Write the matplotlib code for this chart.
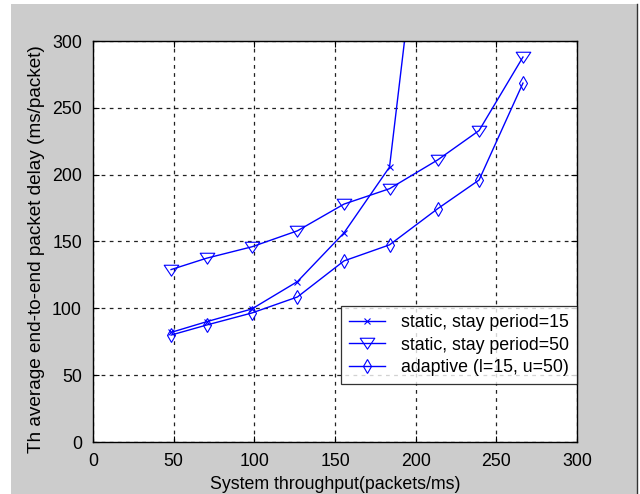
import matplotlib
matplotlib.use("Agg")
import matplotlib.pyplot as plt
from matplotlib.patches import Rectangle
from matplotlib.lines import Line2D
from matplotlib.path import Path

plt.rcParams['font.family'] = ['Liberation Sans', 'DejaVu Sans']

# Throughput (packets/ms) at which each scheme was measured
throughput = [48.4, 70.4, 98.4, 126.7, 155.6, 183.8, 213.6, 239.3, 266.5]
throughput_static15 = [48.4, 70.4, 98.4, 126.7, 155.6, 183.8, 198.0]

# Average end-to-end packet delay (ms/packet)
delay_static15 = [82, 90, 99.5, 120, 156.5, 205.7, 350]
delay_static50 = [129, 137.5, 146, 158, 178, 189.5, 211, 233, 288]
delay_adaptive = [80, 87.5, 96.5, 108.5, 135.5, 147.5, 174.5, 196, 268.5]

labels = ["static, stay period=15", "static, stay period=50", "adaptive (l=15, u=50)"]

x_ticks = [0, 50, 100, 150, 200, 250, 300]
y_ticks = [0, 50, 100, 150, 200, 250, 300]

W, H = 640, 494
fig = plt.figure(figsize=(W / 100, H / 100), dpi=100, facecolor='white')

# grey window background with a dark right border
fig.patches.append(Rectangle((11 / W, 0), (637 - 11) / W, (H - 4) / H,
                             transform=fig.transFigure, facecolor='#cccccc',
                             edgecolor='none', zorder=-10))
fig.lines.append(Line2D([637 / W, 637 / W], [0, (H - 4) / H],
                        transform=fig.transFigure, color='#333333', lw=1.0))

ax = fig.add_axes([93 / W, (H - 442) / H, (577 - 93) / W, (442 - 41) / H])
ax.set_facecolor('white')

blue = '#0000ff'
tri = Path([(-1.0, 0.72), (1.0, 0.72), (0.0, -0.78), (-1.0, 0.72)],
           [Path.MOVETO, Path.LINETO, Path.LINETO, Path.CLOSEPOLY])

ax.plot(throughput_static15, delay_static15, color=blue, lw=1.0, marker='x',
        ms=5, mew=0.8, label=labels[0])
ax.plot(throughput, delay_static50, color=blue, lw=1.0, marker=tri,
        ms=10.5, mew=0.8, mfc='none', label=labels[1])
ax.plot(throughput, delay_adaptive, color=blue, lw=1.0, marker='d',
        ms=6.7, mew=0.8, mfc='none', label=labels[2])

ax.set_xlim(0, 300)
ax.set_ylim(0, 300)
ax.set_xticks(x_ticks)
ax.set_yticks(y_ticks)
ax.grid(True, color='#222222', linestyle=(0, (3, 3.5)), lw=0.9)
ax.tick_params(direction='in', top=True, right=True, length=4, width=0.8,
               labelsize=12.8, colors='black', pad=8)
for s in ax.spines.values():
    s.set_linewidth(1.0)
    s.set_color('black')

ax.set_xlabel("System throughput(packets/ms)", fontsize=12.8, labelpad=4)
ax.set_ylabel("Th average end-to-end packet delay (ms/packet)", fontsize=13.7)
ax.yaxis.set_label_coords(-0.099, 0.48)

leg = ax.legend(loc='lower right', bbox_to_anchor=(1.0, 0.145), fontsize=12.8,
                frameon=True, fancybox=False, edgecolor='black',
                handlelength=2.0, handletextpad=0.9, borderpad=0.45,
                labelspacing=0.3, borderaxespad=0.0)
leg.get_frame().set_linewidth(0.9)

fig.savefig("out.png", dpi=100, facecolor=fig.get_facecolor())
